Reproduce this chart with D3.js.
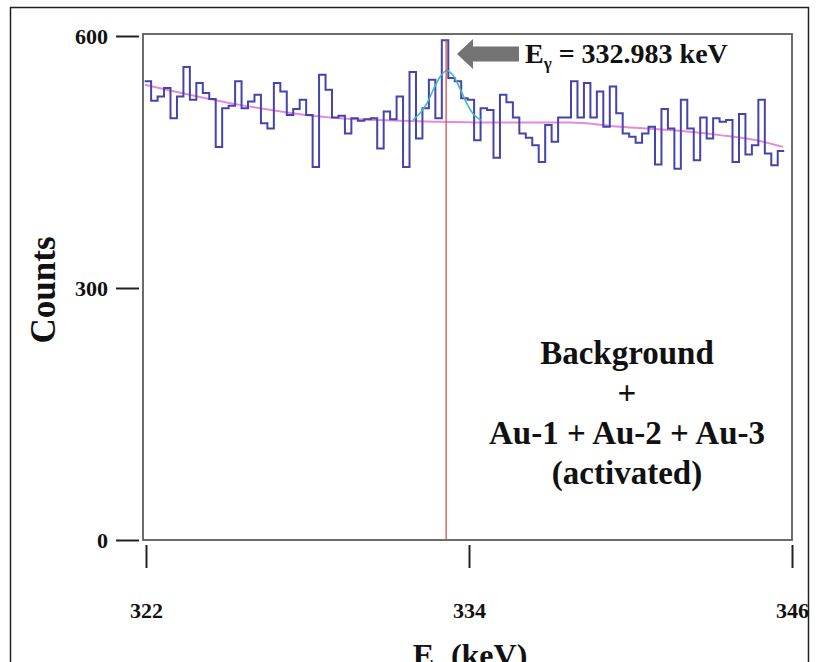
<!DOCTYPE html>
<html>
<head>
<meta charset="utf-8">
<script src="https://cdn.jsdelivr.net/npm/d3@7"></script>
<style>
  body { margin: 0; background: #fff; }
  svg text { font-family: "Liberation Serif", "Times New Roman", serif; font-weight: bold; fill: #111; }
</style>
</head>
<body>
<div id="viz"></div>
<script>
// spectrum data
var binStart = 321.95;   // keV, left edge of first bin
var binWidth = 0.24;     // keV
var counts = [546,523,528,538,502,528,563,524,544,532,
              525,468,514,517,546,514,522,530,496,490,
              544,534,506,513,524,506,444,554,536,503,
              505,484,502,499,501,502,466,510,501,528,
              444,557,478,514,548,502,595,550,546,526,
              524,476,514,512,455,530,521,503,484,479,
              470,450,494,474,503,503,546,503,544,503,
              534,492,540,508,484,480,473,484,492,447,
              513,490,442,524,490,452,503,478,502,498,
              500,450,507,459,470,524,460,446,463];

// background fit (pink)
var bgEnergy = [321.96, 325.49, 329.21, 332.92, 335.15, 337.75, 339.61, 341.47, 343.32, 344.81, 345.66];
var bgCounts = [542, 518, 502, 498, 497, 497, 492, 488, 482, 475, 468];

// peak fit (cyan)
var fitEnergy = [331.92, 332.18, 332.44, 332.70, 332.96, 333.18, 333.41, 333.67, 333.93, 334.19, 334.48];
var fitCounts = [500, 508, 520, 538, 553, 559, 553, 537, 519, 506, 499];

var peakLine = 333.15;
var xTicks = [322, 334, 346];
var yTicks = [0, 300, 600];
var noteLines = ["Background", "+", "Au-1 + Au-2 + Au-3", "(activated)"];

var width = 819, height = 662;

var svg = d3.select("#viz").append("svg")
    .attr("width", width)
    .attr("height", height);

var xscale = d3.scaleLinear().domain([322, 346]).range([146, 792]);
var yscale = d3.scaleLinear().domain([0, 600]).range([540, 36]);

// outer frame
svg.append("rect")
    .attr("x", 10.5).attr("y", 7.5)
    .attr("width", 798).attr("height", 700)
    .attr("fill", "none").attr("stroke", "#222").attr("stroke-width", 1.5);

// plot box
svg.append("rect")
    .attr("x", 143).attr("y", 34)
    .attr("width", 792 - 143).attr("height", 540 - 34)
    .attr("fill", "none").attr("stroke", "#5c5c5c").attr("stroke-width", 1.8);

// y axis ticks
var yAxis = svg.append("g")
    .attr("transform", "translate(139,0)")
    .call(d3.axisLeft(yscale).tickValues(yTicks).tickSize(23).tickPadding(8));
yAxis.select(".domain").remove();
yAxis.selectAll("line").attr("stroke", "#222").attr("stroke-width", 2);
yAxis.selectAll("text").style("font-size", "22px").attr("fill", "#111")
    .style("font-family", "Liberation Serif").style("font-weight", "bold");

// x axis ticks
var xAxis = svg.append("g")
    .attr("transform", "translate(0,545)")
    .call(d3.axisBottom(xscale).tickValues(xTicks).tickSize(23).tickPadding(34).tickFormat(d3.format("d")));
xAxis.select(".domain").remove();
xAxis.selectAll("line").attr("stroke", "#222").attr("stroke-width", 2);
xAxis.selectAll("text").style("font-size", "22px").attr("fill", "#111")
    .style("font-family", "Liberation Serif").style("font-weight", "bold");

// background curve
var bgPts = bgEnergy.map(function(e, i) { return [e, bgCounts[i]]; });
svg.append("path")
    .attr("d", d3.line()
        .x(function(d) { return xscale(d[0]); })
        .y(function(d) { return yscale(d[1]); })
        .curve(d3.curveMonotoneX)(bgPts))
    .attr("fill", "none").attr("stroke", "#e58ad9").attr("stroke-width", 2);

// histogram as a step line
var pts = counts.map(function(c, i) { return [binStart + i * binWidth, c]; });
pts.push([binStart + counts.length * binWidth, counts[counts.length - 1]]);
svg.append("path")
    .attr("d", d3.line()
        .x(function(d) { return xscale(d[0]); })
        .y(function(d) { return yscale(d[1]); })
        .curve(d3.curveStepAfter)(pts))
    .attr("fill", "none").attr("stroke", "#4444ac").attr("stroke-width", 2);

// gaussian fit
var fitPts = fitEnergy.map(function(e, i) { return [e, fitCounts[i]]; });
svg.append("path")
    .attr("d", d3.line()
        .x(function(d) { return xscale(d[0]); })
        .y(function(d) { return yscale(d[1]); })
        .curve(d3.curveCatmullRom)(fitPts))
    .attr("fill", "none").attr("stroke", "#3fb8c8").attr("stroke-width", 1.6);

// peak marker
svg.append("line")
    .attr("x1", xscale(peakLine)).attr("x2", xscale(peakLine))
    .attr("y1", yscale(595)).attr("y2", yscale(0))
    .attr("stroke", "#d9504a").attr("stroke-width", 1.3);

// arrow
var ax = 457, ay = 54;
svg.append("path")
    .attr("d", "M" + ax + "," + ay +
               " L" + (ax + 16) + "," + (ay - 15) +
               " L" + (ax + 16) + "," + (ay - 7.5) +
               " L" + (ax + 62) + "," + (ay - 7.5) +
               " L" + (ax + 62) + "," + (ay + 7.5) +
               " L" + (ax + 16) + "," + (ay + 7.5) +
               " L" + (ax + 16) + "," + (ay + 15) + " Z")
    .attr("fill", "#737373");

var lbl = svg.append("text")
    .attr("x", 525).attr("y", 63)
    .style("font-size", "28px");
lbl.append("tspan").text("E");
lbl.append("tspan").attr("dy", 6).style("font-size", "17px").text("γ");
lbl.append("tspan").attr("dy", -6).text(" = 332.983 keV");

// annotation
svg.selectAll(".note")
    .data(noteLines)
    .enter()
    .append("text")
    .attr("class", "note")
    .attr("x", 627)
    .attr("y", function(d, i) { return 364 + i * 40; })
    .attr("text-anchor", "middle")
    .style("font-size", "33px")
    .text(function(d) { return d; });

// axis titles
svg.append("text")
    .attr("transform", "translate(55,290) rotate(-90)")
    .attr("text-anchor", "middle")
    .style("font-size", "35px")
    .text("Counts");

var xt = svg.append("text")
    .attr("x", 470).attr("y", 666)
    .attr("text-anchor", "middle")
    .style("font-size", "32px");
xt.append("tspan").text("E");
xt.append("tspan").attr("dy", 7).style("font-size", "19px").text("γ");
xt.append("tspan").attr("dy", -7).text(" (keV)");
</script>
</body>
</html>
